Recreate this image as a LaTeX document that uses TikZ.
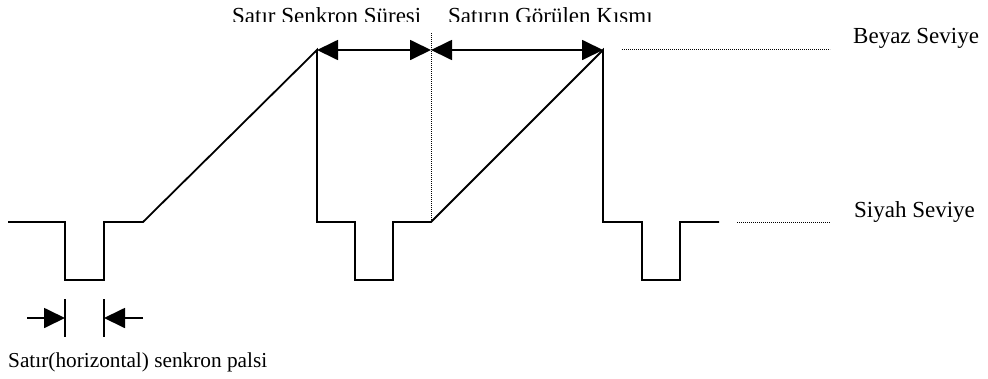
\documentclass[tikz,border=0pt]{standalone}
\usepackage{fontspec}
\setmainfont{Liberation Serif}
\usetikzlibrary{arrows.meta}
\begin{document}
\begin{tikzpicture}[x=1pt,y=-1pt,
  wave/.style={line width=1.8pt,line join=miter},
  level/.style={line width=0.9pt,dash pattern=on 0.9pt off 1.1pt},
  dim/.style={line width=1.8pt,-{Triangle[length=21pt,width=20pt]}},
  dimboth/.style={line width=1.8pt,{Triangle[length=21pt,width=20pt]}-{Triangle[length=21pt,width=20pt]}},
  lbl/.style={inner sep=0pt,anchor=base west,font=\fontsize{23}{27}\selectfont},
  small/.style={lbl,font=\fontsize{21.3}{25}\selectfont}]
\useasboundingbox (0,0) rectangle (988,378);

% key points of the signal
\coordinate (w1) at (317,50);
\coordinate (mid) at (431,50);
\coordinate (w2) at (603,50);
\coordinate (pl) at (65,318);
\coordinate (pr) at (104,318);
\coordinate (al) at (27,318);
\coordinate (ar) at (143,318);

% video line signal: sync pulses, ramps and blanking
\draw[wave] (8,222) -- (65,222) -- (65,280) -- (104,280) -- (104,222) -- (143,222)
  -- (w1) -- (317,222) -- (355,222) -- (355,280) -- (393,280) -- (393,222) -- (431,222)
  -- (w2) -- (603,222) -- (642,222) -- (642,280) -- (680,280) -- (680,222) -- (719,222);

% reference levels
\draw[level] (622,49) -- (830,49);
\draw[level] (737,222) -- (830,222);
\draw[level] (431,33) -- (431,222);

% line sync duration and visible part
\draw[dimboth] (w1) -- (mid);
\draw[dimboth] (mid) -- (w2);

% horizontal sync pulse width
\draw[line width=1.5pt] (65,299) -- (65,337);
\draw[line width=1.5pt] (104,299) -- (104,337);
\draw[dim] (al) -- (pl);
\draw[dim] (ar) -- (pr);

% labels
\begin{scope}
  \clip (0,0) rectangle (988,21.7);
  \node[lbl] (tsync) at (232,23.5) {Satır Senkron Süresi};
  \node[lbl] (tvis) at (448,23.5) {Satırın Görülen Kısmı};
\end{scope}
\node[lbl] (white) at (853,43) {Beyaz Seviye};
\node[lbl] (black) at (854,217) {Siyah Seviye};
\node[small] (pulse) at (8,367) {Satır(horizontal) senkron palsi};
\end{tikzpicture}
\end{document}
